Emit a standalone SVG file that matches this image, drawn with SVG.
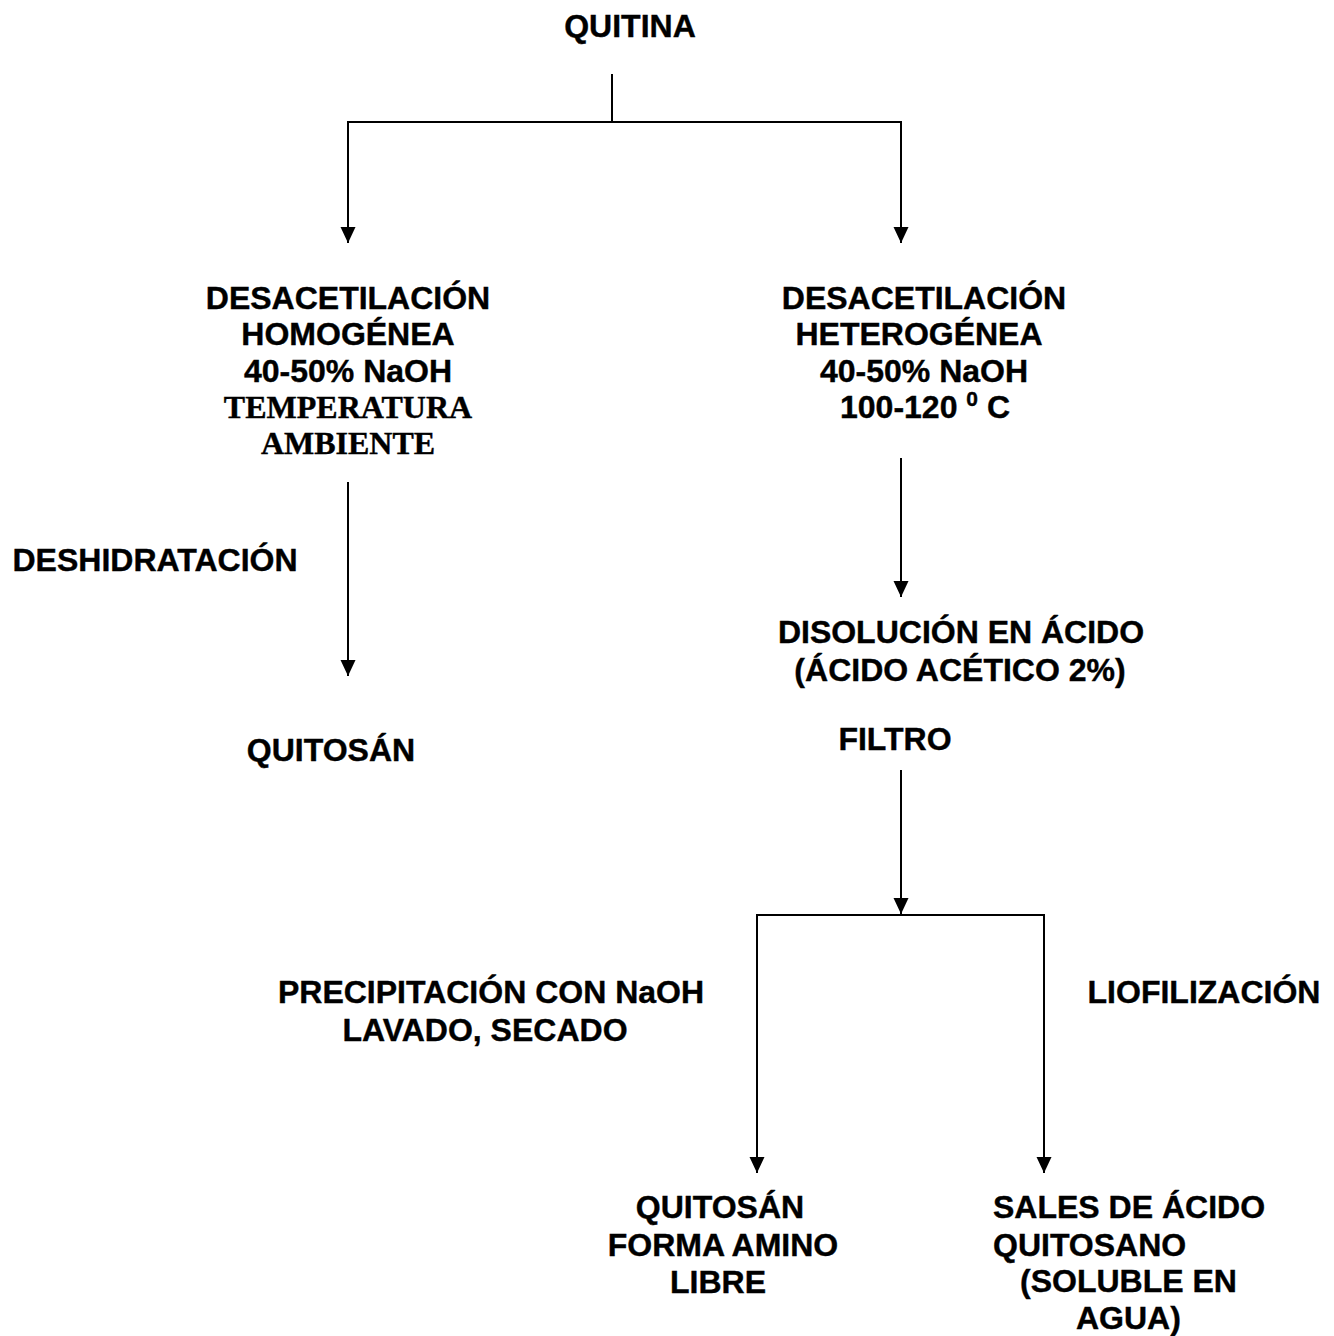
<svg xmlns="http://www.w3.org/2000/svg" width="1334" height="1336" viewBox="0 0 1334 1336">
<style>
.t{font-family:"Liberation Sans",Arial,sans-serif;font-weight:bold;font-size:32px;fill:#000;stroke:#000;stroke-width:0.4;text-anchor:middle}
.s{font-family:"Liberation Serif","Times New Roman",serif;font-weight:bold;font-size:32px;fill:#000;stroke:#000;stroke-width:0.4;text-anchor:middle}
.a{text-anchor:start}
.l{fill:none;stroke:#000;stroke-width:2}
</style>
<defs>
<marker id="ad" markerUnits="userSpaceOnUse" markerWidth="18" markerHeight="18" viewBox="0 0 18 18" refX="9" refY="16" orient="0">
<path d="M1.5,0 L16.5,0 L9,16 Z" fill="#000"/>
</marker>
</defs>
<rect width="1334" height="1336" fill="#fff"/>
<g id="connectors">
<line class="l" x1="612" y1="74" x2="612" y2="122"/>
<line class="l" x1="347" y1="122" x2="902" y2="122"/>
<line class="l" x1="348" y1="122" x2="348" y2="243" marker-end="url(#ad)"/>
<line class="l" x1="901" y1="122" x2="901" y2="243" marker-end="url(#ad)"/>
<line class="l" x1="348" y1="482" x2="348" y2="676" marker-end="url(#ad)"/>
<line class="l" x1="901" y1="458" x2="901" y2="597" marker-end="url(#ad)"/>
<line class="l" x1="901" y1="770" x2="901" y2="914" marker-end="url(#ad)"/>
<line class="l" x1="756" y1="915" x2="1045" y2="915"/>
<line class="l" x1="757" y1="915" x2="757" y2="1173" marker-end="url(#ad)"/>
<line class="l" x1="1044" y1="915" x2="1044" y2="1173" marker-end="url(#ad)"/>
</g>
<g id="quitina"><text class="t" x="630" y="37">QUITINA</text></g>
<g id="homogenea">
<text class="t" x="348" y="309">DESACETILACIÓN</text>
<text class="t" x="348" y="345">HOMOGÉNEA</text>
<text class="t" x="348" y="382">40-50% NaOH</text>
<text class="s" x="348" y="418">TEMPERATURA</text>
<text class="s" x="348" y="454">AMBIENTE</text>
</g>
<g id="heterogenea">
<text class="t" x="924" y="309">DESACETILACIÓN</text>
<text class="t" x="919" y="345">HETEROGÉNEA</text>
<text class="t" x="924" y="382">40-50% NaOH</text>
<text class="t" x="925" y="418">100-120 <tspan font-size="21" dy="-12">0</tspan><tspan dy="12"> C</tspan></text>
</g>
<g id="deshidratacion"><text class="t" x="155" y="571">DESHIDRATACIÓN</text></g>
<g id="quitosan1"><text class="t" x="331" y="761">QUITOSÁN</text></g>
<g id="disolucion">
<text class="t" x="961" y="643">DISOLUCIÓN EN ÁCIDO</text>
<text class="t" x="960" y="681">(ÁCIDO ACÉTICO 2%)</text>
</g>
<g id="filtro"><text class="t" x="895" y="750">FILTRO</text></g>
<g id="precipitacion">
<text class="t" x="491" y="1003">PRECIPITACIÓN CON NaOH</text>
<text class="t" x="485" y="1041">LAVADO, SECADO</text>
</g>
<g id="liofilizacion"><text class="t" x="1204" y="1003">LIOFILIZACIÓN</text></g>
<g id="quitosan2">
<text class="t" x="720" y="1218">QUITOSÁN</text>
<text class="t" x="723" y="1256">FORMA AMINO</text>
<text class="t" x="718" y="1293">LIBRE</text>
</g>
<g id="sales">
<text class="t a" x="993" y="1218">SALES DE ÁCIDO</text>
<text class="t a" x="993" y="1256">QUITOSANO</text>
<text class="t a" x="1020" y="1292">(SOLUBLE EN</text>
<text class="t a" x="1076" y="1329">AGUA)</text>
</g>
</svg>
